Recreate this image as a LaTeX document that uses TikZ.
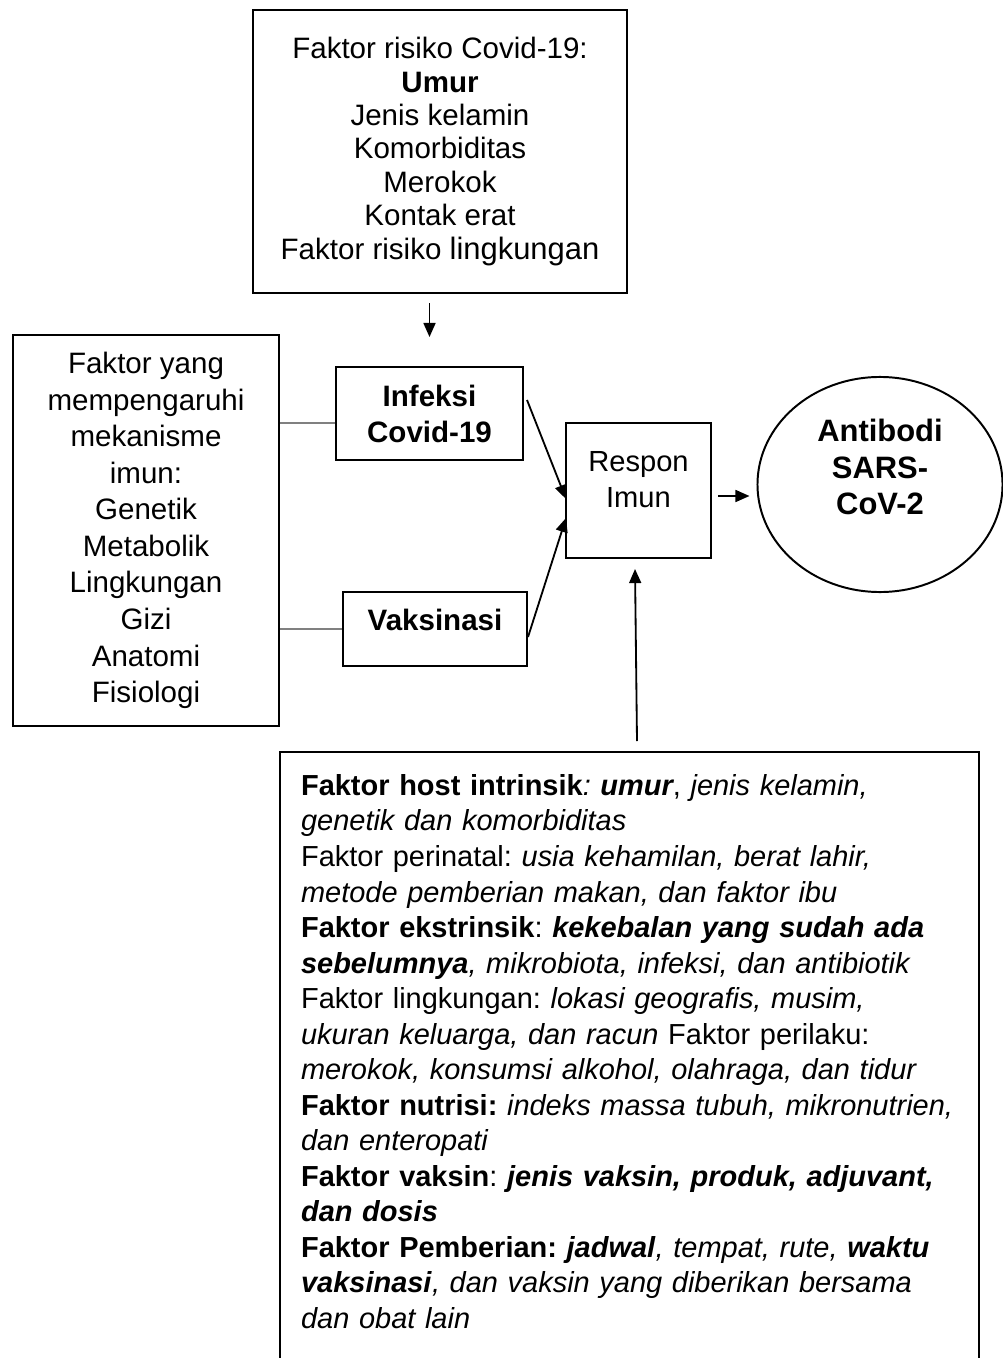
\documentclass[tikz,border=0pt]{standalone}
\usepackage{fontspec}
\setmainfont{Liberation Sans}
\usetikzlibrary{arrows.meta,positioning,shapes.geometric,calc}
\frenchspacing

\begin{document}
\begin{tikzpicture}[x=0.025cm,y=-0.025cm,>={Triangle[length=10pt,width=8.5pt]},
  box/.style={draw,line width=1.4pt,inner sep=0pt,align=center},
  flow/.style={->,line width=1.3pt},
  link/.style={draw=gray,line width=0.9pt}]
\useasboundingbox (0,0) rectangle (1003,1358);
\clip (0,0) rectangle (1003,1358);
\node[box,minimum width=9.35cm,minimum height=7.075cm,font=\fontsize{21}{23.8}\selectfont] (risk) at (440,151.5)
  {Faktor risiko Covid-19:\\\textbf{Umur}\\Jenis kelamin\\Komorbiditas\\Merokok\\Kontak erat\\Faktor risiko {\fontsize{22}{23.8}\selectfont lingkungan}};
\node[box,minimum width=6.65cm,minimum height=9.775cm,font=\fontsize{21}{26}\selectfont] (imun) at (146,530.5)
  {Faktor yang\\mempengaruhi\\mekanisme\\imun:\\Genetik\\Metabolik\\Lingkungan\\Gizi\\Anatomi\\Fisiologi};
\node[box,minimum width=4.675cm,minimum height=2.325cm,font=\fontsize{21}{25.6}\selectfont\bfseries] (infeksi) at (429.5,413.5)
  {Infeksi\\Covid-19};
\node[box,minimum width=4.6cm,minimum height=1.85cm,text width=4cm,text depth=13.6pt,font=\fontsize{21}{25.6}\selectfont\bfseries] (vaksin) at (435,629)
  {Vaksinasi};
\node[box,minimum width=3.625cm,minimum height=3.375cm,text width=3cm,text depth=41.3pt,font=\fontsize{20.7}{25.6}\selectfont] (respon) at (638.5,490.5)
  {Respon\\Imun};
\node[box,ellipse,minimum width=6.125cm,minimum height=5.375cm,text width=3.5cm,text depth=76.9pt,font=\fontsize{22}{26}\selectfont\bfseries] (antibodi) at (880,484.5)
  {Antibodi\\SARS-\\CoV-2};
\node[draw,line width=1.4pt,anchor=north west,align=left,text width=16.425cm,inner xsep=15pt,inner ysep=16pt,text depth=20cm,font=\fontsize{20.6}{25.25}\selectfont] (host) at (279,751)
  {\textbf{Faktor host intrinsik}\textit{: \textbf{umur}}, \textit{jenis kelamin,}\\
  \textit{genetik dan komorbiditas}\\
  Faktor perinatal: \textit{usia kehamilan, berat lahir,}\\
  \textit{metode pemberian makan, dan faktor ibu}\\
  \textbf{Faktor ekstrinsik}: \textbf{\textit{kekebalan yang sudah ada}}\\
  \textbf{\textit{sebelumnya}}\textit{, mikrobiota, infeksi, dan antibiotik}\\
  Faktor lingkungan: \textit{lokasi geografis, musim,}\\
  \textit{ukuran keluarga, dan racun} Faktor perilaku:\\
  \textit{merokok, konsumsi alkohol, olahraga, dan tidur}\\
  \textbf{Faktor nutrisi:} \textit{indeks massa tubuh, mikronutrien,}\\
  \textit{dan enteropati}\\
  \textbf{Faktor vaksin}: \textbf{\textit{jenis vaksin, produk, adjuvant,}}\\
  \textbf{\textit{dan dosis}}\\
  \textbf{Faktor Pemberian: \textit{jadwal}}\textit{, tempat, rute, \textbf{waktu}}\\
  \textbf{\textit{vaksinasi}}\textit{, dan vaksin yang diberikan bersama}\\
  \textit{dan obat lain}};
\draw[flow,shorten <=6.4pt,shorten >=20.6pt] (infeksi.north |- risk.south) -- (infeksi.north);
\draw[flow] ($(infeksi.east)+(3,-13.5)$) -- ($(respon.west)+(1,8.5)$);
\draw[flow] ($(vaksin.east)+(0,8)$) -- ($(respon.west)+(1,27.5)$);
\draw[flow] ($(respon.east)+(6,5.5)$) -- ($(antibodi.west)+(-7,11.5)$);
\draw[flow] ($(respon.south |- host.north)+(-1.5,-10)$) -- ($(respon.south)+(-3.5,10)$);
\draw[link] ($(imun.east |- infeksi.west)+(0,9.5)$) -- ($(infeksi.west)+(0,9.5)$);
\draw[link] (imun.east |- vaksin.west) -- (vaksin.west);
\end{tikzpicture}
\end{document}
